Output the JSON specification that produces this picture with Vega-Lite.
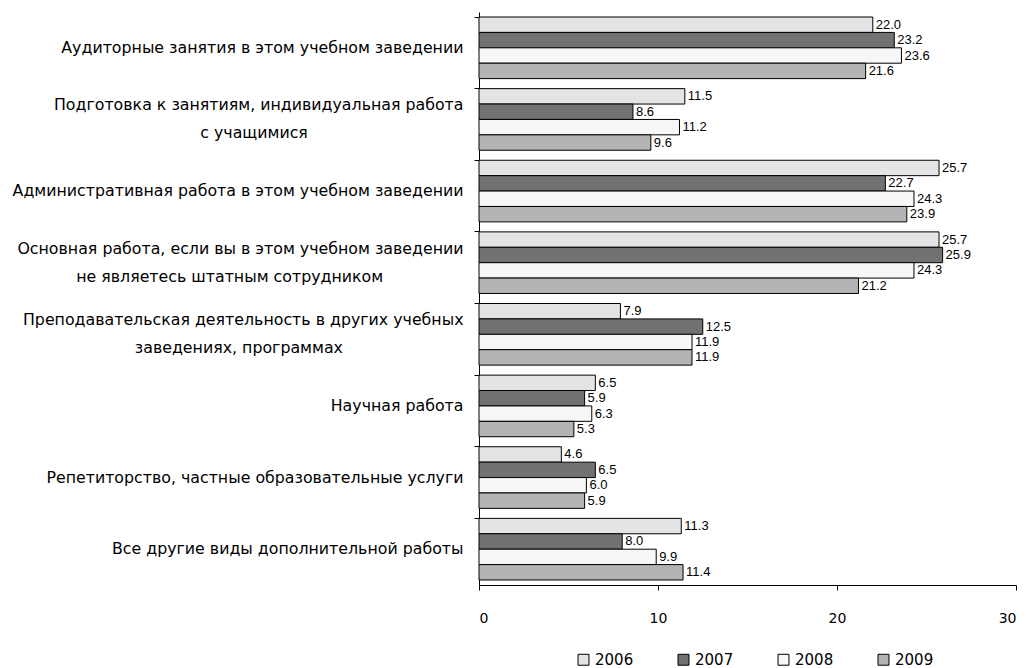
{
  "$schema": "https://vega.github.io/schema/vega-lite/v6.json",
  "autosize": {"type": "none"},
  "padding": {"left": 479, "top": 12, "right": 13, "bottom": 83},
  "width": 537,
  "height": 573,
  "background": "white",
  "config": {"view": {"stroke": null}, "font": "DejaVu Sans"},
  "data": {"values": [
    {"cat": "Аудиторные занятия в этом учебном заведении", "year": "2006", "v": 22.0},
    {"cat": "Аудиторные занятия в этом учебном заведении", "year": "2007", "v": 23.2},
    {"cat": "Аудиторные занятия в этом учебном заведении", "year": "2008", "v": 23.6},
    {"cat": "Аудиторные занятия в этом учебном заведении", "year": "2009", "v": 21.6},
    {"cat": "Подготовка к занятиям, индивидуальная работа|с учащимися", "year": "2006", "v": 11.5},
    {"cat": "Подготовка к занятиям, индивидуальная работа|с учащимися", "year": "2007", "v": 8.6},
    {"cat": "Подготовка к занятиям, индивидуальная работа|с учащимися", "year": "2008", "v": 11.2},
    {"cat": "Подготовка к занятиям, индивидуальная работа|с учащимися", "year": "2009", "v": 9.6},
    {"cat": "Административная работа в этом учебном заведении", "year": "2006", "v": 25.7},
    {"cat": "Административная работа в этом учебном заведении", "year": "2007", "v": 22.7},
    {"cat": "Административная работа в этом учебном заведении", "year": "2008", "v": 24.3},
    {"cat": "Административная работа в этом учебном заведении", "year": "2009", "v": 23.9},
    {"cat": "Основная работа, если вы в этом учебном заведении|не являетесь штатным сотрудником", "year": "2006", "v": 25.7},
    {"cat": "Основная работа, если вы в этом учебном заведении|не являетесь штатным сотрудником", "year": "2007", "v": 25.9},
    {"cat": "Основная работа, если вы в этом учебном заведении|не являетесь штатным сотрудником", "year": "2008", "v": 24.3},
    {"cat": "Основная работа, если вы в этом учебном заведении|не являетесь штатным сотрудником", "year": "2009", "v": 21.2},
    {"cat": "Преподавательская деятельность в других учебных|заведениях, программах", "year": "2006", "v": 7.9},
    {"cat": "Преподавательская деятельность в других учебных|заведениях, программах", "year": "2007", "v": 12.5},
    {"cat": "Преподавательская деятельность в других учебных|заведениях, программах", "year": "2008", "v": 11.9},
    {"cat": "Преподавательская деятельность в других учебных|заведениях, программах", "year": "2009", "v": 11.9},
    {"cat": "Научная работа", "year": "2006", "v": 6.5},
    {"cat": "Научная работа", "year": "2007", "v": 5.9},
    {"cat": "Научная работа", "year": "2008", "v": 6.3},
    {"cat": "Научная работа", "year": "2009", "v": 5.3},
    {"cat": "Репетиторство, частные образовательные услуги", "year": "2006", "v": 4.6},
    {"cat": "Репетиторство, частные образовательные услуги", "year": "2007", "v": 6.5},
    {"cat": "Репетиторство, частные образовательные услуги", "year": "2008", "v": 6.0},
    {"cat": "Репетиторство, частные образовательные услуги", "year": "2009", "v": 5.9},
    {"cat": "Все другие виды дополнительной работы", "year": "2006", "v": 11.3},
    {"cat": "Все другие виды дополнительной работы", "year": "2007", "v": 8.0},
    {"cat": "Все другие виды дополнительной работы", "year": "2008", "v": 9.9},
    {"cat": "Все другие виды дополнительной работы", "year": "2009", "v": 11.4}
  ]},
  "encoding": {
    "y": {"field": "cat", "type": "nominal", "sort": null,
      "scale": {"paddingInner": 0.14, "paddingOuter": 0.07},
      "axis": {"title": null,
        "labelExpr": "indexof(datum.label,'|')<0 ? datum.label : [split(datum.label,'|')[0], split(datum.label,'|')[1] + pad('', round(0.95*(length(split(datum.label,'|')[0]) - length(split(datum.label,'|')[1]))), '\u00a0') + '\u200b']",
        "labelOffset": {"expr": "indexof(datum.value,'|')>=0 ? -14 : 0"},
        "labelFontSize": 15.8, "labelColor": "#000", "labelLineHeight": 28, "labelPadding": 11, "labelLimit": 600, "domainColor": "#000", "tickColor": "#000", "bandPosition": 0, "tickSize": 5, "labelAlign": "right"}},
    "yOffset": {"field": "year", "type": "nominal", "sort": ["2006", "2007", "2008", "2009"]},
    "x": {"field": "v", "type": "quantitative",
      "scale": {"domain": [0, 30], "nice": false},
      "axis": {"title": null, "values": [0, 10, 20, 30], "grid": false, "labelFontSize": 14, "labelColor": "#000", "labelPadding": 21, "domainColor": "#000", "tickColor": "#000", "tickSize": 5}}
  },
  "layer": [
    {"mark": {"type": "bar", "stroke": "#000", "strokeWidth": 1},
     "encoding": {"fill": {"field": "year", "type": "nominal",
        "scale": {"domain": ["2006", "2007", "2008", "2009"], "range": ["#e4e4e4", "#727272", "#f7f7f7", "#b4b4b4"]},
        "legend": {"title": null, "orient": "none", "legendX": 97, "legendY": 640, "direction": "horizontal", "symbolType": "square", "symbolSize": 120, "symbolStrokeColor": "#000", "symbolStrokeWidth": 1, "labelFontSize": 15, "labelColor": "#000", "columnPadding": 42, "symbolOffset": 0}}}},
    {"mark": {"type": "text", "align": "left", "baseline": "middle", "dx": 3, "font": "Liberation Sans", "fontSize": 13, "fill": "#000"},
     "encoding": {"text": {"field": "v", "type": "quantitative", "format": ".1f"}}}
  ]
}
